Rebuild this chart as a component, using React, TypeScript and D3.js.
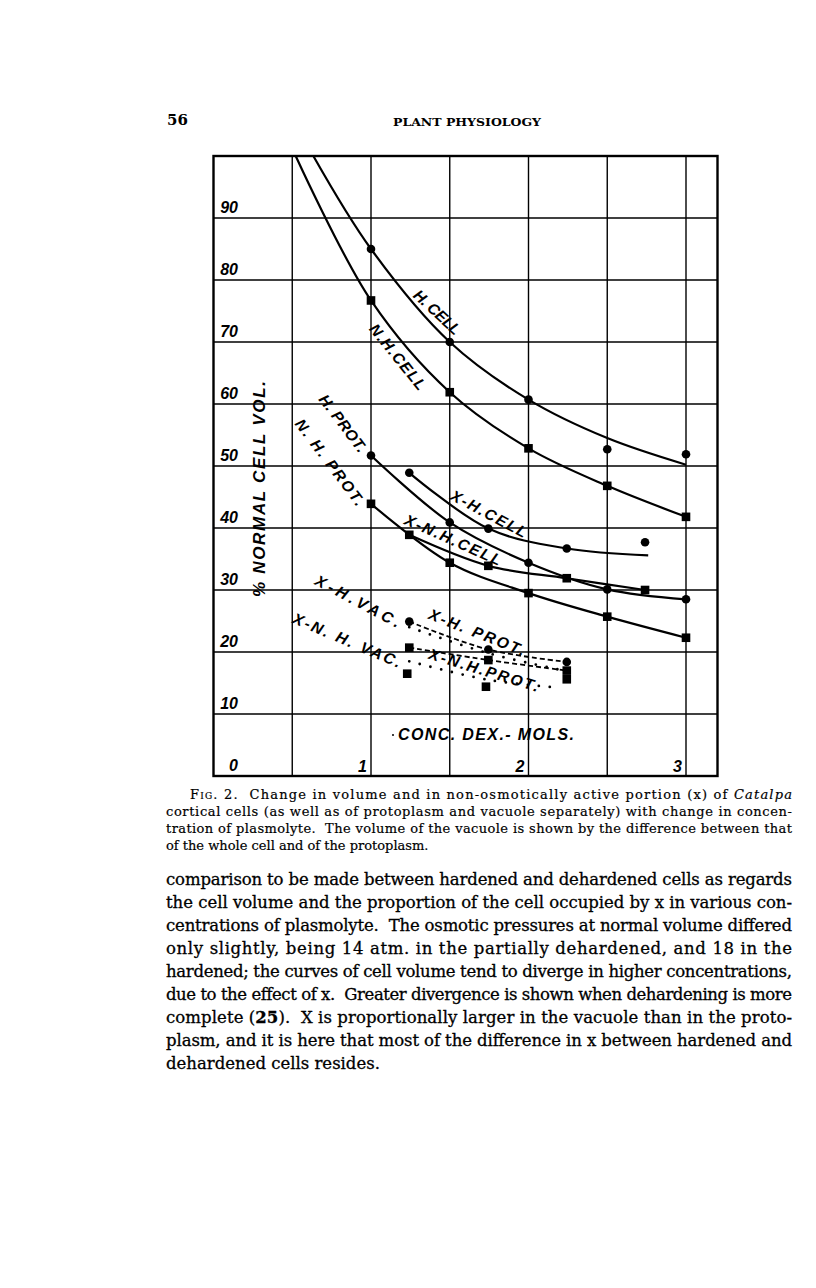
import React from "react";
import * as d3 from "d3";

type P = [number, number];

// axis ticks
const xTickLabels: number[] = [1, 2, 3];
const xGridValues: number[] = [0.5, 1, 1.5, 2, 2.5, 3];
const yTickLabels: number[] = [0, 10, 20, 30, 40, 50, 60, 70, 80, 90];

// series (concentration in mols dextrose, % normal cell volume)
const hCellCurve: P[] = [[0.634, 100], [1, 85], [1.5, 70], [2, 60.7], [2.5, 54.5], [3, 50.2]];
const hCellPts: P[] = [[1, 85], [1.5, 70], [2, 60.7], [2.5, 52.7], [3, 51.9]];
const nhCellCurve: P[] = [[0.522, 100], [1, 76.7], [1.5, 61.9], [2, 52.85], [2.5, 46.8], [3, 41.8]];
const nhCellPts: P[] = [[1, 76.7], [1.5, 61.9], [2, 52.85], [2.5, 46.8], [3, 41.8]];
const hProt: P[] = [[1, 51.7], [1.5, 40.9], [2, 34.4], [2.5, 30.1], [3, 28.5]];
const nhProt: P[] = [[1, 43.9], [1.5, 34.4], [2, 29.5], [2.5, 25.7], [3, 22.3]];
const xhCellCurve: P[] = [[1.243, 48.9], [1.745, 39.9], [2.243, 36.7], [2.76, 35.6]];
const xhCellPts: P[] = [[1.243, 48.9], [1.745, 39.9], [2.243, 36.7], [2.74, 37.7]];
const xnhCell: P[] = [[1.243, 38.9], [1.745, 33.9], [2.243, 31.9], [2.74, 30.0]];
const xhProt: P[] = [[1.243, 24.9], [1.745, 20.4], [2.243, 18.4]];
const xnhProt: P[] = [[1.243, 20.7], [1.745, 18.7], [2.243, 17.0]];
const xhVac: P[] = [[1.243, 24.0], [1.745, 19.8], [2.243, 16.9]];
const xnhVac: P[] = [[1.243, 18.5], [1.745, 15.5], [2.17, 14.3]];
const xnhVacPts: P[] = [[1.23, 16.5], [1.73, 14.4], [2.243, 15.6]];

// curve labels: text, data anchor, angle
const curveLabels: { text: string; at: P; angle: number; len: number }[] = [
  { text: "H. CELL", at: [1.421, 74.8], angle: 43, len: 58 },
  { text: "N.H.CELL", at: [1.171, 67.6], angle: 51, len: 80 },
  { text: "H. PROT.", at: [0.822, 56.9], angle: 53, len: 68 },
  { text: "N. H. PROT.", at: [0.74, 50.6], angle: 53, len: 104 },
  { text: "X-H.CELL", at: [1.749, 42.3], angle: 28, len: 84 },
  { text: "X-N.H.CELL", at: [1.521, 38.1], angle: 24, len: 104 },
  { text: "X-H.VAC.", at: [0.917, 28.2], angle: 28, len: 94 },
  { text: "X-N. H. VAC.", at: [0.848, 21.9], angle: 23, len: 116 },
  { text: "X-H. PROT.", at: [1.673, 23.2], angle: 21.5, len: 102 },
  { text: "X-N.H.PROT.", at: [1.717, 17.1], angle: 17, len: 114 },
];

const yTitle = "% NORMAL CELL VOL.";
const xTitle = "CONC. DEX.- MOLS.";
const pageNumber = "56";
const runningHead = "PLANT PHYSIOLOGY";

const captionLines: string[] = [
  "^Fig.^ 2.  Change in volume and in non-osmotically active portion (x) of _Catalpa_",
  "cortical cells (as well as of protoplasm and vacuole separately) with change in concen-",
  "tration of plasmolyte.  The volume of the vacuole is shown by the difference between that",
  "of the whole cell and of the protoplasm.",
];

const bodyLines: string[] = [
  "comparison to be made between hardened and dehardened cells as regards",
  "the cell volume and the proportion of the cell occupied by x in various con-",
  "centrations of plasmolyte.  The osmotic pressures at normal volume differed",
  "only slightly, being 14 atm. in the partially dehardened, and 18 in the",
  "hardened; the curves of cell volume tend to diverge in higher concentrations,",
  "due to the effect of x.  Greater divergence is shown when dehardening is more",
  "complete (*25*).  X is proportionally larger in the vacuole than in the proto-",
  "plasm, and it is here that most of the difference in x between hardened and",
  "dehardened cells resides.",
];

const x = d3.scaleLinear().domain([0, 3.2]).range([213.5, 717.5]);
const y = d3.scaleLinear().domain([0, 100]).range([776, 156]);

const line = d3
  .line<P>()
  .x((d) => x(d[0]))
  .y((d) => y(d[1]))
  .curve(d3.curveCatmullRom.alpha(0.5));

function renderRich(s: string, key: string) {
  const parts = s.split(/(\*[^*]+\*|_[^_]+_|\^[^^]+\^)/).filter((p) => p.length);
  return parts.map((p, i) => {
    if (p.startsWith("*")) return <tspan key={key + i} fontWeight="bold">{p.slice(1, -1)}</tspan>;
    if (p.startsWith("_")) return <tspan key={key + i} fontStyle="italic">{p.slice(1, -1)}</tspan>;
    if (p.startsWith("^")) return <tspan key={key + i} style={{ fontVariant: "small-caps" }}>{p.slice(1, -1)}</tspan>;
    return <tspan key={key + i}>{p}</tspan>;
  });
}

const chartFont = "'Liberation Sans', Arial, sans-serif";
const serif = "'DejaVu Serif', 'Liberation Serif', serif";

export default function App() {
  const left = x(0);
  const right = x(3.2);
  const top = y(100);
  const bottom = y(0);

  const circles = (pts: P[], k: string) =>
    pts.map((d, i) => <circle key={k + i} cx={x(d[0])} cy={y(d[1])} r={4.3} fill="#000" />);
  const squares = (pts: P[], k: string) =>
    pts.map((d, i) => <rect key={k + i} x={x(d[0]) - 4.3} y={y(d[1]) - 4.3} width={8.6} height={8.6} fill="#000" />);

  const captionLeft = 166;
  const textRight = 792;

  return (
    <svg
      width={816}
      height={1288}
      style={{ position: "absolute", left: 0, top: 0, background: "#fff" }}
      xmlns="http://www.w3.org/2000/svg"
    >
      <rect x={0} y={0} width={816} height={1288} fill="#fff" />
      {/* page header */}
      <text x={167} y={125} fontFamily={serif} fontWeight="bold" fontSize={15}>{pageNumber}</text>
      <text x={393} y={126} fontFamily={serif} fontWeight="bold" fontSize={11.5} textLength={148} lengthAdjust="spacingAndGlyphs">
        {runningHead}
      </text>

      {/* grid */}
      {xGridValues.map((v) => (
        <line key={"gx" + v} x1={x(v)} x2={x(v)} y1={top} y2={bottom} stroke="#000" strokeWidth={1.4} />
      ))}
      {yTickLabels.filter((v) => v > 0).map((v) => (
        <line key={"gy" + v} x1={left} x2={right} y1={y(v)} y2={y(v)} stroke="#000" strokeWidth={1.4} />
      ))}
      <rect x={left} y={top} width={right - left} height={bottom - top} fill="none" stroke="#000" strokeWidth={2.4} />

      {/* tick labels */}
      {yTickLabels.map((v) => (
        <text key={"yl" + v} x={238} y={y(v) - 5.5} textAnchor="end" fontFamily={chartFont} fontWeight="bold" fontStyle="italic" fontSize={16}>
          {v}
        </text>
      ))}
      {xTickLabels.map((v) => (
        <text key={"xl" + v} x={x(v) - 4} y={772} textAnchor="end" fontFamily={chartFont} fontWeight="bold" fontStyle="italic" fontSize={16}>
          {v}
        </text>
      ))}
      <text
        transform="translate(265,489) rotate(-90)"
        textAnchor="middle"
        fontFamily={chartFont}
        fontWeight="bold"
        fontStyle="italic"
        fontSize={17}
        textLength={216}
        lengthAdjust="spacing"
      >
        {yTitle}
      </text>
      <circle cx={393} cy={735} r={1} fill="#000" />
      <text x={398} y={740} fontFamily={chartFont} fontWeight="bold" fontStyle="italic" fontSize={16} textLength={176} lengthAdjust="spacing">
        {xTitle}
      </text>

      {/* solid curves */}
      {[hCellCurve, nhCellCurve, hProt, nhProt, xhCellCurve, xnhCell].map((d, i) => (
        <path key={"c" + i} d={line(d) || ""} fill="none" stroke="#000" strokeWidth={2.2} />
      ))}
      {/* dashed */}
      {[xhProt, xnhProt].map((d, i) => (
        <path key={"d" + i} d={line(d) || ""} fill="none" stroke="#000" strokeWidth={1.8} strokeDasharray="5,3" />
      ))}
      {/* dotted */}
      {[xhVac, xnhVac].map((d, i) => (
        <path key={"o" + i} d={line(d) || ""} fill="none" stroke="#000" strokeWidth={2.8} strokeDasharray="0,11" strokeLinecap="round" />
      ))}

      {/* markers */}
      {circles(hCellPts, "hc")}
      {squares(nhCellPts, "nc")}
      {circles(hProt, "hp")}
      {squares(nhProt, "np")}
      {circles(xhCellPts, "xhc")}
      {squares(xnhCell, "xnc")}
      {circles(xhProt, "xhp")}
      {squares(xnhProt, "xnp")}
      {squares(xnhVacPts, "xnv")}

      {/* curve labels */}
      {curveLabels.map((l) => (
        <text
          key={l.text}
          transform={`translate(${x(l.at[0])},${y(l.at[1])}) rotate(${l.angle})`}
          textAnchor="middle"
          dominantBaseline="central"
          fontFamily={chartFont}
          fontWeight="bold"
          fontStyle="italic"
          fontSize={15.5}
          textLength={l.len}
          lengthAdjust="spacing"
        >
          {l.text}
        </text>
      ))}

      {/* caption */}
      {captionLines.map((s, i) => {
        const last = i === captionLines.length - 1;
        const sx = i === 0 ? 190 : captionLeft;
        return (
          <text
            key={"cap" + i}
            x={sx}
            y={799 + i * 17}
            fontFamily={serif}
            fontSize={13}
            stroke="#000"
            strokeWidth={0.2}
            xmlSpace="preserve"
            {...(last ? {} : { textLength: textRight - sx, lengthAdjust: "spacing" })}
          >
            {renderRich(s, "cap" + i)}
          </text>
        );
      })}

      {/* body text */}
      {bodyLines.map((s, i) => {
        const last = i === bodyLines.length - 1;
        return (
          <text
            key={"b" + i}
            x={captionLeft}
            y={885 + i * 23}
            fontFamily={serif}
            fontSize={16.5}
            stroke="#000"
            strokeWidth={0.3}
            xmlSpace="preserve"
            {...(last ? {} : { textLength: textRight - captionLeft, lengthAdjust: "spacing" })}
          >
            {renderRich(s, "b" + i)}
          </text>
        );
      })}
    </svg>
  );
}
